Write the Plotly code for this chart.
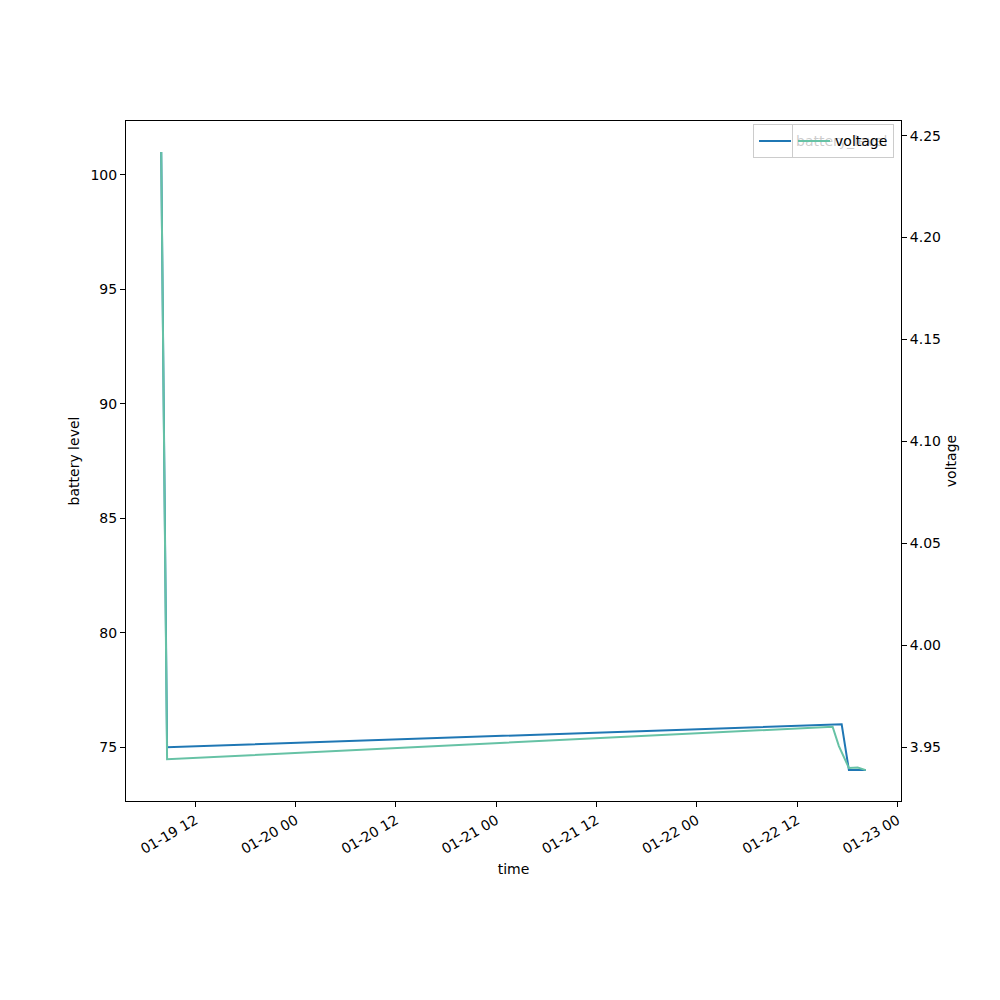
import plotly.graph_objects as go
import pandas as pd

# ---- data ----
battery_time = ["2020-01-19 07:55", "2020-01-19 08:37", "2020-01-22 17:20",
                "2020-01-22 18:12", "2020-01-22 20:13"]
battery_level = [101, 75, 76, 74, 74]

voltage_time = ["2020-01-19 07:55", "2020-01-19 08:37", "2020-01-22 16:15",
                "2020-01-22 17:00", "2020-01-22 18:12", "2020-01-22 19:15",
                "2020-01-22 20:13"]
voltage = [4.242, 3.944, 3.960, 3.9505, 3.9397, 3.9400, 3.9387]

x_tick_vals = ["2020-01-19 12:00", "2020-01-20 00:00", "2020-01-20 12:00",
               "2020-01-21 00:00", "2020-01-21 12:00", "2020-01-22 00:00",
               "2020-01-22 12:00", "2020-01-23 00:00"]
y1_ticks = [75, 80, 85, 90, 95, 100]
y2_ticks = [3.95, 4.00, 4.05, 4.10, 4.15, 4.20, 4.25]

BLUE = "#1f77b4"
GREEN = "#66c2a5"
FONT = "DejaVu Sans"


def pad_range(vals, frac=0.05):
    lo, hi = min(vals), max(vals)
    d = (hi - lo) * frac
    return [lo - d, hi + d]


all_t = pd.to_datetime(battery_time + voltage_time)
t0, t1 = all_t.min(), all_t.max()
dt = (t1 - t0) * 0.05
x_range = [(t0 - dt).strftime("%Y-%m-%d %H:%M:%S"), (t1 + dt).strftime("%Y-%m-%d %H:%M:%S")]

fig = go.Figure()
fig.add_trace(go.Scatter(x=battery_time, y=battery_level, mode="lines",
                         name="battery_level", line=dict(color=BLUE, width=2),
                         yaxis="y", legend="legend"))
fig.add_trace(go.Scatter(x=voltage_time, y=voltage, mode="lines",
                         name="voltage", line=dict(color=GREEN, width=2),
                         yaxis="y2", legend="legend2"))

axis_common = dict(showline=True, linecolor="black", linewidth=1,
                   ticks="outside", ticklen=5, tickcolor="black",
                   showgrid=False, zeroline=False, automargin=False,
                   tickfont=dict(family=FONT, size=14, color="black"))

fig.update_layout(
    width=1000, height=1000,
    margin=dict(l=118, r=107, t=113, b=207, autoexpand=False),
    paper_bgcolor="white", plot_bgcolor="white",
    font=dict(family=FONT, size=14, color="black"),
    xaxis=dict(**axis_common, mirror=True, range=x_range, type="date",
               tickvals=x_tick_vals, tickformat="%m-%d %H", tickangle=-30,
               title=dict(text="time", font=dict(family=FONT, size=14), standoff=8)),
    yaxis=dict(**axis_common, mirror=True, range=pad_range(battery_level),
               tickvals=y1_ticks,
               title=dict(text="battery level", font=dict(family=FONT, size=14), standoff=7)),
    yaxis2=dict(**axis_common, overlaying="y", side="right",
                range=pad_range(voltage), tickvals=y2_ticks, tickformat=".2f",
                title=dict(text="voltage", font=dict(family=FONT, size=14), standoff=6)),
    legend=dict(x=0.991, y=0.995, xanchor="right", yanchor="top",
                bgcolor="rgba(255,255,255,0.8)", bordercolor="#cccccc", borderwidth=1,
                font=dict(family=FONT, size=14), itemwidth=32),
    legend2=dict(x=0.991, y=0.995, xanchor="right", yanchor="top",
                 bgcolor="rgba(255,255,255,0.8)", bordercolor="#cccccc", borderwidth=1,
                 font=dict(family=FONT, size=14), itemwidth=32),
    showlegend=True,
)

fig.write_html("out.html")
